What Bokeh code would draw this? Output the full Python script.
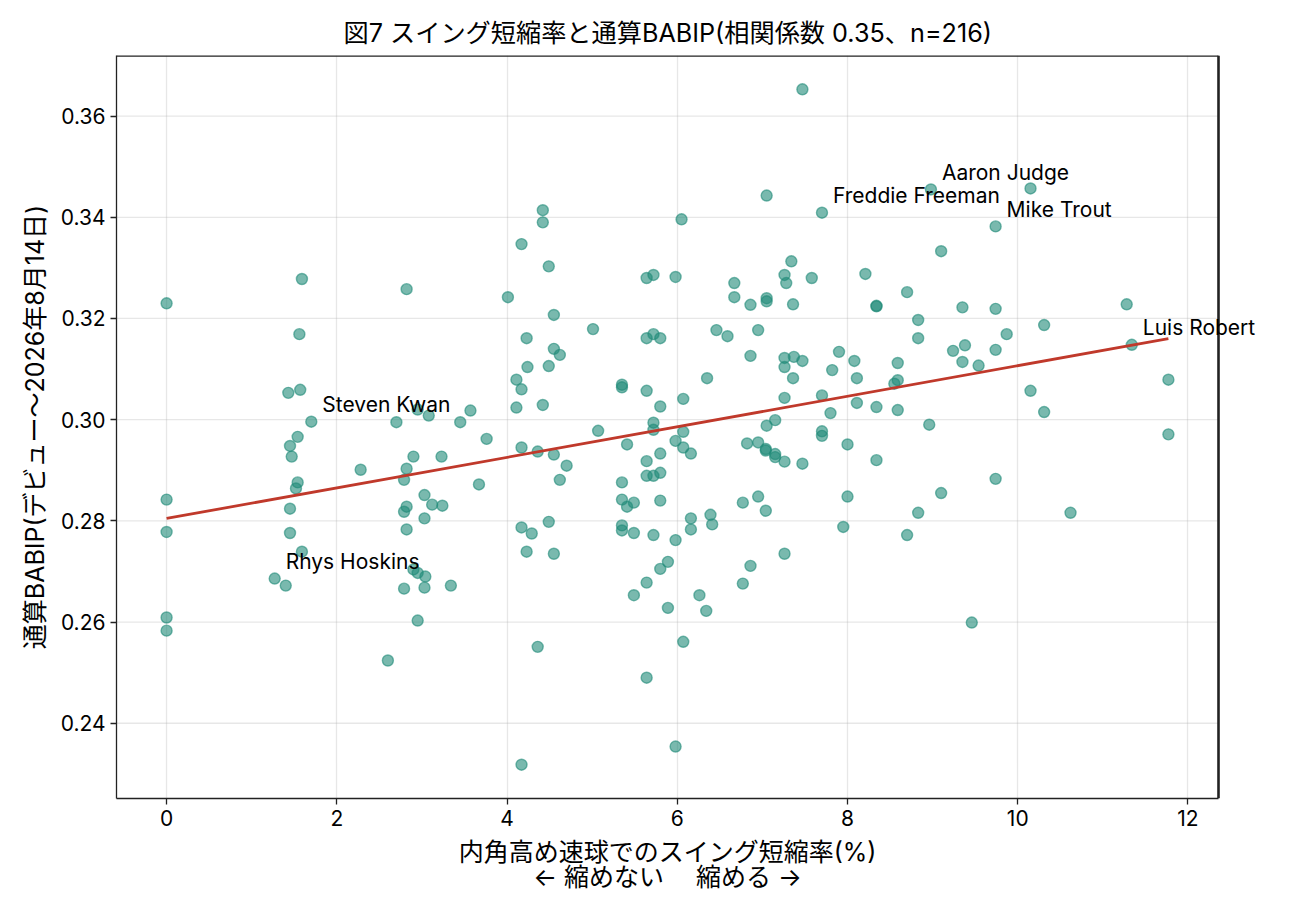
import numpy as np
from bokeh.plotting import figure
from bokeh.models import Range1d, FixedTicker, Label
from bokeh.embed import file_html
from bokeh.resources import INLINE

# ---- data ----
swing_cut = [
    0.00, 1.59, 2.82, 1.56, 1.43, 1.57, 1.70, 2.70, 2.95, 3.08, 3.45, 3.57,
    1.54, 1.45, 1.47, 3.76, 2.90, 3.23, 2.28, 2.82, 2.79, 3.67, 1.54, 1.52,
    0.00, 3.03, 3.12, 3.24, 2.82, 2.79, 1.45, 3.03, 0.00, 1.45, 2.82, 1.59,
    2.90, 2.95, 3.04, 1.27, 1.40, 2.79, 3.03, 3.34, 0.00, 0.00, 2.95, 2.60,
    7.47, 7.05, 7.70, 4.42, 4.42, 6.05, 4.17, 4.49, 7.34, 7.26, 7.28, 7.58,
    5.64, 5.72, 5.98, 6.67, 4.01, 6.67, 6.86, 7.05, 7.05, 7.36, 4.55, 5.01,
    6.46, 6.59, 6.95, 4.23, 5.64, 5.72, 5.80, 4.55, 4.62, 4.24, 4.49, 4.11,
    4.17, 4.11, 4.42, 5.35, 5.35, 5.64, 5.80, 6.07, 6.35, 6.86, 7.26, 7.37,
    7.47, 7.26, 7.36, 7.90, 7.82, 8.08, 8.11, 7.26, 7.70, 8.11, 7.80, 7.05,
    7.15, 5.72, 5.72, 5.07, 6.07, 7.70, 7.70,
    5.98, 6.07, 6.16, 5.41, 4.17, 4.36, 4.55, 4.70, 4.62, 5.64, 5.80, 5.64,
    5.72, 5.80, 5.35, 5.35, 5.41, 5.49, 5.80, 5.35, 5.35, 5.49, 5.72, 5.98,
    6.16, 6.16, 6.39, 6.41, 4.17, 4.29, 4.49, 4.23, 4.55, 5.89, 5.80, 5.64,
    5.49, 5.89, 6.26, 6.34, 6.07, 4.36, 5.64, 5.98, 4.17, 6.82, 6.95, 7.04,
    7.04, 7.15, 7.15, 7.26, 7.47, 8.00, 8.00, 7.95, 6.77, 6.95, 7.04, 7.26,
    6.86, 6.77,
    8.98, 10.15, 9.74, 9.10, 8.21, 8.70, 8.34, 8.34, 9.35, 9.74, 11.28, 8.83,
    10.31, 9.87, 8.83, 11.34, 9.38, 9.24, 9.74, 8.59, 9.35, 9.54, 8.59, 8.55,
    11.77, 10.15, 8.34, 8.59, 10.31, 8.96, 11.77,
    8.34, 9.74, 9.10, 8.83, 8.70, 10.62, 9.46,
]
babip = [
    0.3230, 0.3278, 0.3258, 0.3169, 0.3053, 0.3059, 0.2996, 0.2995, 0.3020, 0.3008, 0.2995, 0.3018,
    0.2966, 0.2948, 0.2927, 0.2962, 0.2927, 0.2927, 0.2901, 0.2903, 0.2881, 0.2872, 0.2876, 0.2864,
    0.2842, 0.2851, 0.2832, 0.2830, 0.2828, 0.2818, 0.2824, 0.2805, 0.2778, 0.2776, 0.2783, 0.2739,
    0.2704, 0.2697, 0.2690, 0.2686, 0.2672, 0.2666, 0.2668, 0.2672, 0.2609, 0.2583, 0.2603, 0.2524,
    0.3653, 0.3443, 0.3409, 0.3414, 0.3390, 0.3396, 0.3347, 0.3303, 0.3313, 0.3286, 0.3270, 0.3280,
    0.3280, 0.3286, 0.3282, 0.3270, 0.3242, 0.3242, 0.3227, 0.3240, 0.3234, 0.3228, 0.3207, 0.3179,
    0.3177, 0.3165, 0.3177, 0.3161, 0.3161, 0.3169, 0.3161, 0.3140, 0.3128, 0.3104, 0.3106, 0.3079,
    0.3060, 0.3024, 0.3029, 0.3069, 0.3064, 0.3057, 0.3026, 0.3041, 0.3082, 0.3126, 0.3122, 0.3124,
    0.3116, 0.3104, 0.3082, 0.3134, 0.3098, 0.3116, 0.3082, 0.3043, 0.3048, 0.3033, 0.3013, 0.2988,
    0.2999, 0.2994, 0.2980, 0.2978, 0.2976, 0.2977, 0.2968,
    0.2958, 0.2945, 0.2933, 0.2951, 0.2945, 0.2937, 0.2931, 0.2909, 0.2881, 0.2918, 0.2933, 0.2889,
    0.2889, 0.2895, 0.2876, 0.2842, 0.2828, 0.2836, 0.2840, 0.2791, 0.2781, 0.2776, 0.2772, 0.2762,
    0.2805, 0.2783, 0.2812, 0.2793, 0.2787, 0.2775, 0.2798, 0.2739, 0.2735, 0.2719, 0.2705, 0.2678,
    0.2653, 0.2628, 0.2653, 0.2622, 0.2561, 0.2551, 0.2490, 0.2354, 0.2318, 0.2953, 0.2955, 0.2942,
    0.2939, 0.2932, 0.2926, 0.2917, 0.2913, 0.2951, 0.2848, 0.2788, 0.2836, 0.2848, 0.2820, 0.2735,
    0.2711, 0.2676,
    0.3455, 0.3457, 0.3382, 0.3333, 0.3288, 0.3252, 0.3225, 0.3224, 0.3222, 0.3219, 0.3228, 0.3197,
    0.3187, 0.3169, 0.3161, 0.3148, 0.3147, 0.3136, 0.3138, 0.3112, 0.3114, 0.3107, 0.3078, 0.3071,
    0.3079, 0.3057, 0.3025, 0.3019, 0.3015, 0.2990, 0.2971,
    0.2920, 0.2883, 0.2855, 0.2816, 0.2772, 0.2816, 0.2599,
]

label_names = ["Aaron Judge", "Freddie Freeman", "Mike Trout", "Luis Robert", "Steven Kwan", "Rhys Hoskins"]
label_x = [8.98, 7.70, 9.74, 11.34, 1.70, 1.27]
label_y = [0.3455, 0.3409, 0.3382, 0.3148, 0.2996, 0.2686]

x_ticks = [0, 2, 4, 6, 8, 10, 12]
y_ticks = [0.24, 0.26, 0.28, 0.30, 0.32, 0.34, 0.36]

title_text = "図7 スイング短縮率と通算BABIP(相関係数 0.35、n=216)"
x_label_lines = ["内角高め速球でのスイング短縮率(%)", "← 縮めない　 縮める →"]
y_label = "通算BABIP(デビュー〜2026年8月14日)"

FONT = "Inter, Noto Sans CJK JP"
SPINE = "#222222"

# ---- derived ----
xa = np.array(swing_cut)
ya = np.array(babip)
slope, intercept = np.polyfit(xa, ya, 1)
fit_x = [float(xa.min()), float(xa.max())]
fit_y = [intercept + slope * v for v in fit_x]

xpad = (xa.max() - xa.min()) * 0.05
ypad = (ya.max() - ya.min()) * 0.05
x_lo, x_hi = float(xa.min() - xpad), float(xa.max() + xpad)
y_lo, y_hi = float(ya.min() - ypad), float(ya.max() + ypad)

# layout: axes box is 1102 px wide; the canvas frame is extended to the right
# so that the name labels can run past the right spine (as in the original)
W, H = 1274, 899
LEFT, TOP, BOX_W, BOX_H = 116, 55, 1102, 743
FRAME_W = 1148
x_view_end = x_lo + (x_hi - x_lo) * FRAME_W / BOX_W

# the axis label is centred on the whole (extended) frame: pad each line on the
# right with invisible spacing equal to the extension so it centres on the box
PAD = "\u3000\u2002\u2004"
x_label = "\n".join(line + PAD for line in x_label_lines)

p = figure(
    width=W, height=H,
    output_backend="svg", toolbar_location=None,
    x_range=Range1d(x_lo, x_view_end),
    y_range=Range1d(y_lo, y_hi),
    min_border_left=LEFT, min_border_right=W - LEFT - FRAME_W,
    min_border_top=TOP, min_border_bottom=H - TOP - BOX_H,
    title=title_text,
)
p.background_fill_color = "white"
p.border_fill_color = "white"
p.outline_line_color = None

p.title.align = "left"
p.title.offset = 227
p.title.text_font = FONT
p.title.text_font_size = "25.2px"
p.title.text_font_style = "normal"
p.title.text_color = "black"
p.title.standoff = 16

for ax in (p.xaxis[0], p.yaxis[0]):
    ax.axis_line_color = SPINE
    ax.axis_line_width = 1.3
    ax.major_tick_line_color = SPINE
    ax.major_tick_line_width = 1.3
    ax.major_tick_out = 6
    ax.major_tick_in = 0
    ax.minor_tick_line_color = None
    ax.major_label_text_font = FONT
    ax.major_label_text_font_size = "21px"
    ax.major_label_text_color = "black"
    ax.axis_label_text_font = FONT
    ax.axis_label_text_font_size = "25px"
    ax.axis_label_text_font_style = "normal"
    ax.axis_label_text_color = "black"

p.xaxis.bounds = (x_lo, x_hi)
p.xaxis.ticker = FixedTicker(ticks=x_ticks)
p.yaxis.ticker = FixedTicker(ticks=y_ticks)
p.xaxis.major_label_overrides = {t: str(t) for t in x_ticks}
p.yaxis.major_label_overrides = {t: f"{t:.2f}" for t in y_ticks}
p.xaxis.axis_label = x_label
p.xaxis.axis_label_text_line_height = 0.86
p.yaxis.axis_label = y_label
p.xaxis.axis_label_standoff = 8
p.yaxis.axis_label_standoff = 8

# grid: vertical lines from the x grid, horizontal lines drawn only across the box
p.xgrid.grid_line_color = "#b0b0b0"
p.xgrid.grid_line_alpha = 0.3
p.xgrid.grid_line_width = 1.3
p.ygrid.grid_line_color = None
p.segment(x0=x_lo, x1=x_hi, y0=y_ticks, y1=y_ticks,
          line_color="#b0b0b0", line_alpha=0.3, line_width=1.3)

p.scatter(swing_cut, babip, size=11, marker="circle",
          fill_color="#1f8a78", fill_alpha=0.6,
          line_color="#1f8a78", line_alpha=0.6, line_width=1.4)

p.line(fit_x, fit_y, line_color="#c0392b", line_width=2.8)

# spines (top and right) of the axes box
p.segment(x0=[x_lo, x_hi], x1=[x_hi, x_hi],
          y0=[y_hi, y_lo], y1=[y_hi, y_hi],
          line_color=SPINE, line_width=2.6)

for nm, lx, ly in zip(label_names, label_x, label_y):
    p.add_layout(Label(x=lx, y=ly, text=nm, x_offset=11, y_offset=17,
                       text_align="left", text_baseline="alphabetic",
                       text_font=FONT, text_font_size="21px",
                       text_color="black", level="overlay"))

open("out.html", "w").write(file_html(p, INLINE))
